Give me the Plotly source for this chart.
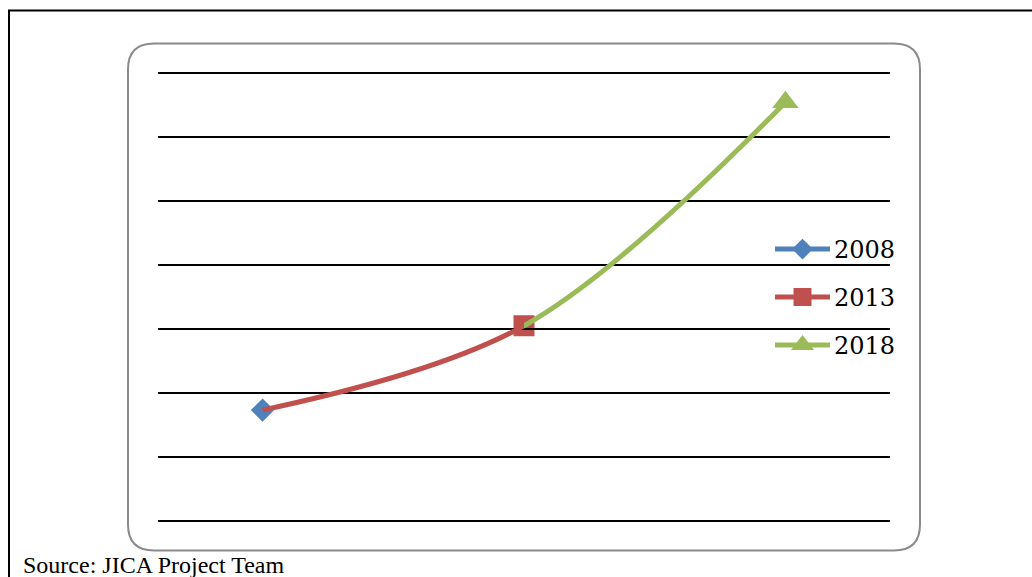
import plotly.graph_objects as go

# ---- data -------------------------------------------------------------
years = [2008, 2013, 2018]
values = [1.73, 3.05, 6.55]
series_names = ["2008", "2013", "2018"]
series_colors = ["#4F81BD", "#C0504D", "#9BBB59"]
series_symbols = ["diamond", "square", "triangle-up"]
marker_sizes = [18, 21, 23]
source_note = "Source: JICA Project Team"

x_range = [2006, 2020]
y_range = [0, 7]

# ---- page geometry (pixels) -------------------------------------------
W, H = 1032, 577
GRID_TOP, GRID_BOTTOM = 73, 521          # pixel rows of the outer gridlines
GRID_LEFT, GRID_RIGHT = 158, 890
unit = (GRID_BOTTOM - GRID_TOP) / (y_range[1] - y_range[0])
ypad = 0.1                               # keep the edge gridlines inside the plot area
ML, MR = GRID_LEFT, W - GRID_RIGHT
MT = GRID_TOP - ypad * unit
MB = H - GRID_BOTTOM - ypad * unit
PW, PH = W - ML - MR, H - MT - MB


def px(x):
    """Horizontal pixel -> paper coordinate."""
    return (x - ML) / PW


def py(y):
    """Vertical pixel (from top) -> paper coordinate."""
    return (H - MB - y) / PH


# where 2013 falls inside the plot, used to split the smoothed line by colour
split = (years[1] - x_range[0]) / (x_range[1] - x_range[0])
LINE_W = 5

fig = go.Figure()

# red segment 2008 -> 2013 (smoothed through all points, clipped to its own sub-area)
fig.add_trace(go.Scatter(
    x=years, y=values, xaxis="x2", yaxis="y", mode="lines",
    line=dict(color=series_colors[1], width=LINE_W, shape="spline"),
    showlegend=False, hoverinfo="skip"))

# green segment 2013 -> 2018
fig.add_trace(go.Scatter(
    x=years, y=values, xaxis="x3", yaxis="y", mode="lines",
    line=dict(color=series_colors[2], width=LINE_W, shape="spline"),
    showlegend=False, hoverinfo="skip"))

# one marker per series
for i, name in enumerate(series_names):
    fig.add_trace(go.Scatter(
        x=[years[i]], y=[values[i]], mode="markers", name=name,
        marker=dict(symbol=series_symbols[i], size=marker_sizes[i],
                    color=series_colors[i], line=dict(width=0)),
        cliponaxis=False, showlegend=False))

# hand-drawn legend on an overlay axis in paper units
leg_x0, leg_x1 = px(775), px(830)
leg_xm = (leg_x0 + leg_x1) / 2
leg_rows = [249, 297, 345]
legend_marker_sizes = [16, 18, 20]
annotations = []
for i, name in enumerate(series_names):
    yy = py(leg_rows[i])
    fig.add_trace(go.Scatter(
        x=[leg_x0, leg_x1], y=[yy, yy], xaxis="x4", yaxis="y4", mode="lines",
        line=dict(color=series_colors[i], width=LINE_W),
        showlegend=False, hoverinfo="skip", cliponaxis=False))
    fig.add_trace(go.Scatter(
        x=[leg_xm], y=[yy], xaxis="x4", yaxis="y4", mode="markers",
        marker=dict(symbol=series_symbols[i], size=legend_marker_sizes[i],
                    color=series_colors[i], line=dict(width=0)),
        showlegend=False, hoverinfo="skip", cliponaxis=False))
    annotations.append(dict(
        x=px(832), y=py(leg_rows[i] + 1), xref="paper", yref="paper",
        xanchor="left", yanchor="middle", showarrow=False, text=name,
        font=dict(family="DejaVu Serif", size=24, color="black")))

annotations.append(dict(
    x=px(21), y=py(565), xref="paper", yref="paper",
    xanchor="left", yanchor="middle", showarrow=False, text=source_note,
    font=dict(family="Liberation Serif", size=24, color="black")))

# rounded frame around the chart
fx0, fy0, fx1, fy1, r = 128, 43, 920, 551, 26


def P(x, y):
    return f"{px(x):.5f},{py(y):.5f}"


frame_path = (
    f"M {P(fx0 + r, fy0)} L {P(fx1 - r, fy0)} Q {P(fx1, fy0)} {P(fx1, fy0 + r)} "
    f"L {P(fx1, fy1 - r)} Q {P(fx1, fy1)} {P(fx1 - r, fy1)} "
    f"L {P(fx0 + r, fy1)} Q {P(fx0, fy1)} {P(fx0, fy1 - r)} "
    f"L {P(fx0, fy0 + r)} Q {P(fx0, fy0)} {P(fx0 + r, fy0)} Z"
)

shapes = [
    dict(type="path", xref="paper", yref="paper", path=frame_path,
         line=dict(color="#8a8a8a", width=2), layer="below"),
    dict(type="rect", xref="paper", yref="paper",
         x0=px(9), y0=py(10), x1=px(1045), y1=py(600),
         line=dict(color="black", width=2), layer="below"),
]

hidden = dict(visible=False, showgrid=False, zeroline=False, fixedrange=True)

fig.update_layout(
    width=W, height=H,
    margin=dict(l=ML, r=MR, t=MT, b=MB, pad=0),
    paper_bgcolor="white", plot_bgcolor="rgba(0,0,0,0)",
    showlegend=False,
    xaxis=dict(range=x_range, domain=[0, 1], **hidden),
    xaxis2=dict(range=[x_range[0], years[1]], domain=[0, split],
                anchor="y", **hidden),
    xaxis3=dict(range=[years[1], x_range[1]], domain=[split, 1],
                anchor="y", **hidden),
    xaxis4=dict(range=[0, 1], domain=[0, 1], anchor="y4", overlaying="x", **hidden),
    yaxis=dict(range=[y_range[0] - ypad, y_range[1] + ypad], dtick=1, tick0=0,
               showgrid=True, gridcolor="black", gridwidth=1.6,
               zeroline=False, showline=False, showticklabels=False,
               ticks="", fixedrange=True),
    yaxis4=dict(range=[0, 1], domain=[0, 1], anchor="x4", overlaying="y", **hidden),
    shapes=shapes,
    annotations=annotations,
)

fig.write_html("out.html")
